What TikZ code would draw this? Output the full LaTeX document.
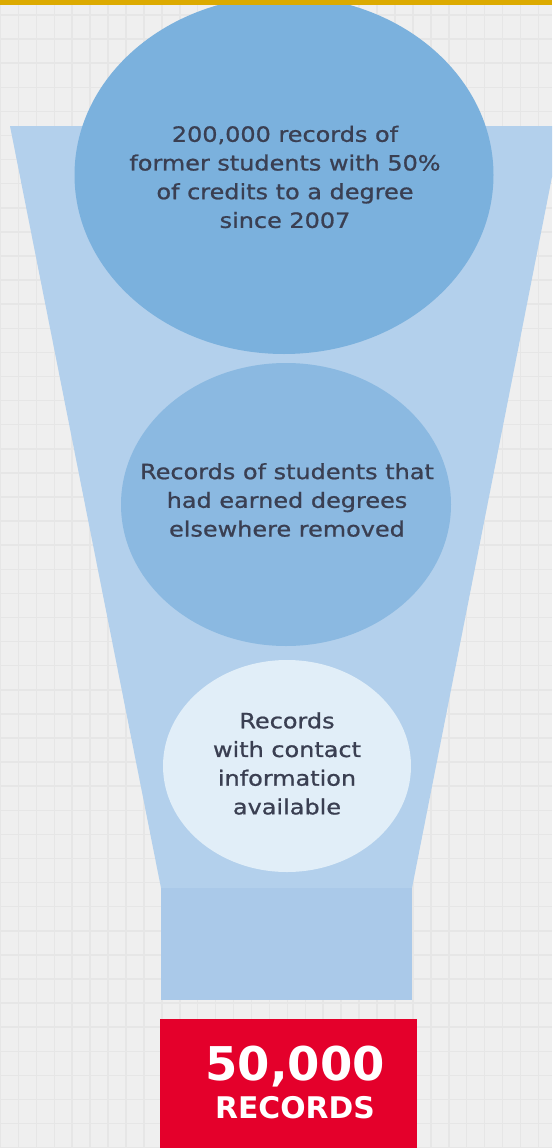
\documentclass[tikz,border=0pt]{standalone}
\usepackage{fontspec}
\setmainfont{DejaVu Sans}
\newfontfamily\widefont[FakeStretch=1.14,FakeBold=0.9]{DejaVu Sans}
\definecolor{paper}{HTML}{EFEFEF}
\definecolor{gridgrey}{HTML}{E6E6E6}
\definecolor{gold}{HTML}{DCAA00}
\definecolor{funnelblue}{HTML}{B3D0EC}
\definecolor{neckblue}{HTML}{AAC9E9}
\definecolor{topblue}{HTML}{7BB1DD}
\definecolor{midblue}{HTML}{8BB9E1}
\definecolor{paleblue}{HTML}{E1EEF8}
\definecolor{recordred}{HTML}{E4002B}
\definecolor{ink}{HTML}{3A3F52}
\begin{document}
\begin{tikzpicture}[x=1pt,y=-1pt,
	stage/.style={align=center,inner sep=0pt,text=ink,font=\widefont\fontsize{21}{28.7}\selectfont},
	countlabel/.style={anchor=base,inner sep=0pt,text=white},
	gridline/.style={gridgrey,line width=1.5pt}]
	\clip (0,0) rectangle (552,1148);
	\fill[paper] (0,0) rectangle (552,1148);
	\foreach \gx in {0,...,30} \draw[gridline] (0.5+17.93*\gx,0)--(0.5+17.93*\gx,1148);
	\foreach \gy in {0,...,47} \draw[gridline] (0,15+24.1*\gy)--(552,15+24.1*\gy);
	\fill[funnelblue] (10,126)--(562,126)--(412,888)--(161,888)--cycle;
	\fill[neckblue] (161,888) rectangle (412,1000);
	\fill[topblue] (284,175) ellipse [x radius=209.5,y radius=179];
	\fill[midblue] (286,504.5) ellipse [x radius=165,y radius=141.5];
	\fill[paleblue] (287,766) ellipse [x radius=124,y radius=106];
	\node[stage] (pool) at (285,177) {200,000 records of\\former students with 50\%\\of credits to a degree\\since 2007};
	\node[stage] (removed) at (287,500) {Records of students that\\had earned degrees\\elsewhere removed};
	\node[stage] (contact) at (287,763.5) {Records\\with contact\\information\\available};
	\fill[recordred] (160,1019) rectangle (417,1148);
	\node[countlabel,font=\bfseries\fontsize{46.5}{46.5}\selectfont] (count) at (295,1080) {50,000};
	\node[countlabel,font=\bfseries\fontsize{29.8}{29.8}\selectfont] (unit) at (295,1118) {RECORDS};
	\fill[gold] (0,0) rectangle (552,4.7);
\end{tikzpicture}
\end{document}
